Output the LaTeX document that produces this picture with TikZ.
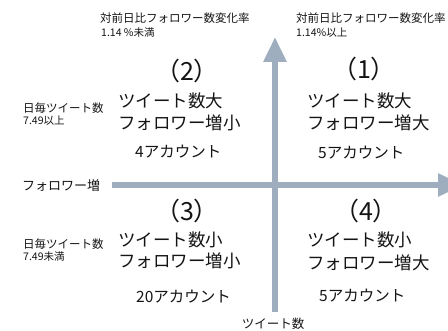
\documentclass[tikz,border=0pt]{standalone}
\usepackage{fontspec}
\setmainfont{Noto Sans CJK JP}
\usetikzlibrary{arrows.meta}
\definecolor{axis}{RGB}{158,174,190}
\definecolor{txt}{RGB}{20,20,20}
\tikzset{
  lbl/.style={inner sep=0pt, anchor=west, text=txt},
  small/.style={lbl, font=\fontsize{11.5}{13}\selectfont},
  tiny/.style={lbl, font=\fontsize{10.5}{12}\selectfont},
  mid/.style={lbl, font=\fontsize{13}{15}\selectfont},
  big/.style={lbl, font=\fontsize{17.5}{19}\selectfont},
  cnt/.style={lbl, font=\fontsize{15.5}{17}\selectfont},
  num/.style={inner sep=0pt, text=txt, font=\fontsize{25}{27}\selectfont},
  axisline/.style={draw=axis, line width=6pt, -{Triangle[width=22pt,length=25pt]}}
}
\begin{document}
\begin{tikzpicture}[x=1pt,y=-1pt]
\useasboundingbox (0,0) rectangle (448,331);
\clip (0,0) rectangle (448,331);
% axes
\coordinate (vbot) at (275,312);
\coordinate (vtop) at (275,37);
\coordinate (hleft) at (112,185);
\coordinate (hright) at (463,185);
\draw[axisline] (vbot) -- (vtop);
\draw[axisline] (hleft) -- (hright);
% top labels
\node[small] (tl1) at (100,18) {対前日比フォロワー数変化率};
\node[tiny] (tl2) at (101,33) {1.14 \%未満};
\node[small] (tr1) at (296,18) {対前日比フォロワー数変化率};
\node[tiny] (tr2) at (296,33) {1.14\%以上};
% left labels
\node[small] (ul1) at (23,108) {日毎ツイート数};
\node[tiny] (ul2) at (23,121) {7.49以上};
\node[mid] (xlab) at (22,186) {フォロワー増};
\node[small] (ll1) at (23,244) {日毎ツイート数};
\node[tiny] (ll2) at (23,257) {7.49未満};
\node[inner sep=0pt, text=txt, font=\fontsize{12.5}{14}\selectfont] (ylab) at (273,324) {ツイート数};
% quadrant 2
\node[num] (q2) at (187,71) {（2）};
\node[big] (q2a) at (118,101) {ツイート数大};
\node[big] (q2b) at (118,123) {フォロワー増小};
\node[cnt] (q2c) at (135,152) {4アカウント};
% quadrant 1
\node[num] (q1) at (364,69) {（1）};
\node[big] (q1a) at (307,101) {ツイート数大};
\node[big] (q1b) at (307,123) {フォロワー増大};
\node[cnt] (q1c) at (318,153) {5アカウント};
% quadrant 3
\node[num] (q3) at (187,211) {（3）};
\node[big] (q3a) at (118,240) {ツイート数小};
\node[big] (q3b) at (118,261) {フォロワー増小};
\node[cnt] (q3c) at (136,297) {20アカウント};
% quadrant 4
\node[num] (q4) at (366,211) {（4）};
\node[big] (q4a) at (307,240) {ツイート数小};
\node[big] (q4b) at (307,263) {フォロワー増大};
\node[cnt] (q4c) at (319,296) {5アカウント};
\end{tikzpicture}
\end{document}
